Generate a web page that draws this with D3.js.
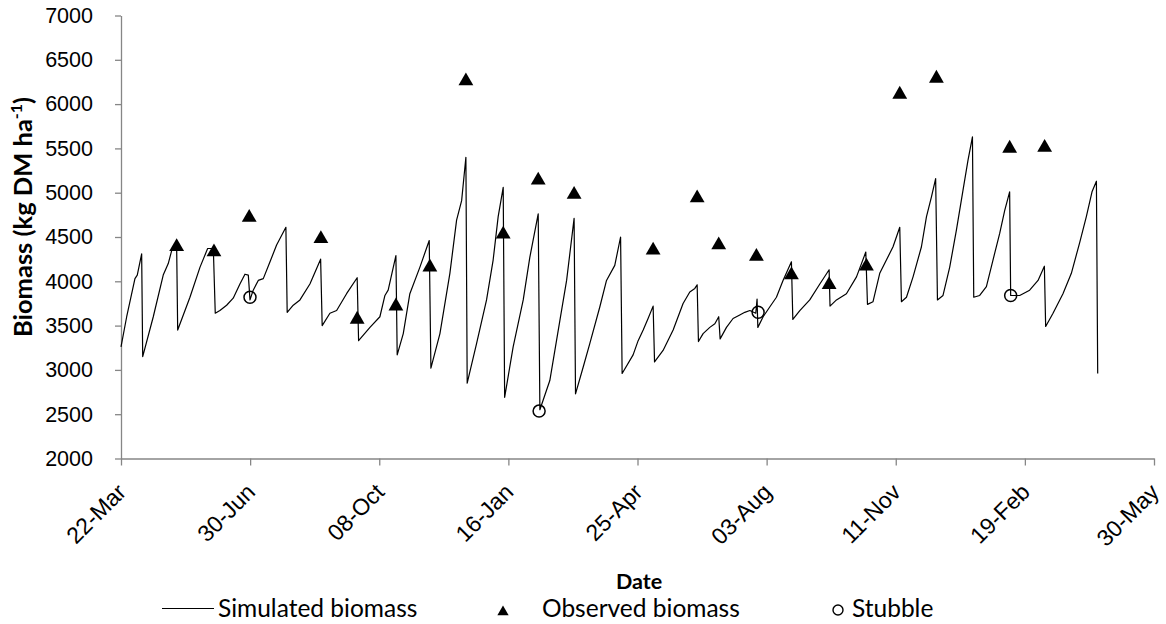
<!DOCTYPE html>
<html>
<head>
<meta charset="utf-8">
<script src="https://cdn.jsdelivr.net/npm/d3@7"></script>
<style>
  body { margin: 0; background: #fff; }
  svg { font-family: Lato, "Open Sans", sans-serif; }
</style>
</head>
<body>
<svg id="chart" width="1166" height="624"></svg>
<script>
// days counted from 22-Mar, ticks every 100 days
var xTickDays = [0, 100, 200, 300, 400, 500, 600, 700, 800];
var xTickLabels = ['22-Mar', '30-Jun', '08-Oct', '16-Jan', '25-Apr', '03-Aug', '11-Nov', '19-Feb', '30-May'];
var yTicks = [2000, 2500, 3000, 3500, 4000, 4500, 5000, 5500, 6000, 6500, 7000];

var simDay = [0, 4.4, 10.8, 12.6, 16.0, 16.8, 25.0, 32.7, 36.6, 39.3, 43.1, 43.9, 53.4, 61.2, 67.1, 71.5, 73.0, 76.6, 81.8, 86.9,
  92.1, 96.0, 98.6, 99.9, 102.4, 106.3, 110.2, 115.4, 120.5, 127.7, 128.7, 133.4, 138.6, 146.3, 154.6, 155.8, 161.8, 167.0, 174.7, 182.9,
  184.0, 192.8, 200.5, 204.4, 206.9, 212.9, 213.9, 218.6, 223.7, 231.5, 238.7, 240.0, 247.0, 254.7, 259.9, 263.8, 267.1, 268.1, 275.4, 283.1,
  288.2, 292.1, 296.0, 297.1, 303.7, 311.5, 316.6, 323.1, 324.4, 332.1, 339.9, 345.1, 350.9, 352.0, 357.9, 363.1, 370.8, 376.0, 382.4, 386.9,
  388.1, 396.6, 400.5, 404.4, 408.2, 412.1, 413.2, 419.8, 427.6, 435.3, 440.5, 444.4, 446.2, 447.2, 450.8, 456.0, 459.9, 462.9, 464.0, 468.9,
  474.0, 479.2, 483.1, 487.0, 491.6, 492.6, 493.2, 497.3, 502.4, 507.6, 512.7, 519.2, 520.3, 525.7, 533.4, 541.2, 548.4, 549.1, 554.1, 561.8,
  569.6, 576.8, 578.1, 582.4, 587.6, 597.9, 603.1, 604.4, 608.3, 613.4, 619.9, 623.8, 627.6, 630.9, 632.3, 636.6, 641.8, 647.0, 652.1, 656.0,
  659.4, 660.4, 665.0, 670.2, 675.3, 680.5, 684.4, 688.2, 689.0, 696.0, 703.7, 710.2, 715.1, 716.1, 721.8, 729.5, 736.0, 742.5, 747.6, 752.0,
  755.4, 756.4];
var simBiomass = [3260, 3600, 4030, 4070, 4310, 3150, 3600, 4070, 4200, 4350, 4390, 3450, 3820, 4160, 4370, 4370, 3640, 3670, 3730, 3810,
  3970, 4080, 4070, 3790, 3900, 4010, 4030, 4220, 4410, 4610, 3650, 3730, 3790, 3970, 4250, 3500, 3640, 3670, 3860, 4040,
  3330, 3480, 3600, 3840, 3900, 4290, 3170, 3410, 3860, 4160, 4460, 3020, 3410, 4090, 4690, 4910, 5400, 2850, 3300, 3790,
  4240, 4730, 5060, 2690, 3260, 3790, 4270, 4760, 2550, 2880, 3560, 4010, 4710, 2730, 3030, 3300, 3710, 4010, 4180, 4500,
  2960, 3170, 3330, 3450, 3580, 3720, 3090, 3220, 3450, 3750, 3880, 3920, 3960, 3320, 3410, 3480, 3520, 3600, 3350, 3480,
  3580, 3620, 3650, 3670, 3640, 3800, 3480, 3600, 3710, 3820, 4010, 4220, 3570, 3670, 3790, 3970, 4130, 3720, 3790, 3860,
  4050, 4330, 3740, 3770, 4090, 4390, 4610, 3770, 3820, 4050, 4390, 4730, 4950, 5160, 3790, 3840, 4160, 4580, 5030, 5370,
  5630, 3820, 3840, 3940, 4240, 4540, 4800, 5010, 3840, 3840, 3900, 4010, 4170, 3490, 3640, 3860, 4090, 4440, 4730, 5010,
  5130, 2960];

var obsDay = [43.1, 72.0, 99.3, 154.8, 182.9, 212.9, 239.2, 267.1, 296.0, 323.1, 350.9, 412.1, 446.2, 462.9, 492.1, 519.2, 548.4, 577.3, 603.1, 631.5, 688.2, 715.3];
var obsBiomass = [4390, 4330, 4720, 4480, 3570, 3720, 4160, 6260, 4530, 5140, 4980, 4350, 4940, 4410, 4280, 4070, 3960, 4170, 6110, 6290, 5500, 5510];

var stubbleDay = [99.9, 323.8, 493.4, 689.0];
var stubbleBiomass = [3820, 2535, 3650, 3840];

var svg = d3.select('#chart');
var axisColor = '#868686';

var x = d3.scaleLinear().domain([0, 800]).range([121, 1154]);
var y = d3.scaleLinear().domain([2000, 7000]).range([458.5, 15.5]);

// axes
var gx = svg.append('g')
  .attr('transform', 'translate(0,' + y(2000) + ')')
  .call(d3.axisBottom(x).tickValues(xTickDays).tickSize(7).tickSizeOuter(0)
    .tickFormat(function(d, i) { return xTickLabels[i]; }));
gx.selectAll('text')
  .attr('text-anchor', 'end')
  .attr('font-size', 23)
  .attr('fill', '#000')
  .attr('dy', 0)
  .attr('y', 0)
  .attr('transform', 'translate(6,35) rotate(-45)');

var gy = svg.append('g')
  .attr('transform', 'translate(' + x(0) + ',0)')
  .call(d3.axisLeft(y).tickValues(yTicks).tickSize(6).tickSizeOuter(0).tickPadding(22)
    .tickFormat(d3.format('d')));
gy.selectAll('text')
  .attr('font-size', 21.5)
  .attr('fill', '#000');

svg.selectAll('.domain, .tick line')
  .attr('stroke', axisColor)
  .attr('stroke-width', 1.3);

// simulated line
var line = d3.line()
  .x(function(d, i) { return x(simDay[i]); })
  .y(function(d) { return y(d); });

svg.append('path')
  .datum(simBiomass)
  .attr('d', line)
  .attr('fill', 'none')
  .attr('stroke', '#000')
  .attr('stroke-width', 1.2)
  .attr('stroke-linejoin', 'round');

// observed
var tri = d3.symbol().type(d3.symbolTriangle).size(95);
svg.selectAll('.obs')
  .data(obsBiomass)
  .enter().append('path')
  .attr('class', 'obs')
  .attr('d', tri)
  .attr('transform', function(d, i) { return 'translate(' + x(obsDay[i]) + ',' + y(d) + ')'; })
  .attr('fill', '#000');

// stubble
svg.selectAll('.stub')
  .data(stubbleBiomass)
  .enter().append('circle')
  .attr('class', 'stub')
  .attr('cx', function(d, i) { return x(stubbleDay[i]); })
  .attr('cy', function(d) { return y(d); })
  .attr('r', 6)
  .attr('fill', 'none')
  .attr('stroke', '#000')
  .attr('stroke-width', 1.5);

// titles
svg.append('text')
  .attr('x', 639)
  .attr('y', 589)
  .attr('text-anchor', 'middle')
  .attr('font-size', 21.5)
  .attr('font-weight', 'bold')
  .text('Date');

var yt = svg.append('text')
  .attr('transform', 'translate(31.5,217) rotate(-90)')
  .attr('text-anchor', 'middle')
  .attr('font-size', 25.5)
  .attr('font-weight', 'bold');
yt.append('tspan').text('Biomass (kg DM ha');
yt.append('tspan').attr('font-size', 16).attr('dy', -10).text('-1');
yt.append('tspan').attr('dy', 10).text(')');

// legend
var leg = svg.append('g').attr('font-size', 24.5);
leg.append('line')
  .attr('x1', 162).attr('x2', 214).attr('y1', 608.5).attr('y2', 608.5)
  .attr('stroke', '#000').attr('stroke-width', 1.2);
leg.append('text').attr('x', 218).attr('y', 617).text('Simulated biomass');
leg.append('path')
  .attr('d', d3.symbol().type(d3.symbolTriangle).size(55))
  .attr('transform', 'translate(503,612)');
leg.append('text').attr('x', 542).attr('y', 617).text('Observed biomass');
leg.append('circle')
  .attr('cx', 838).attr('cy', 610).attr('r', 5)
  .attr('fill', 'none').attr('stroke', '#000').attr('stroke-width', 1.4);
leg.append('text').attr('x', 852).attr('y', 617).text('Stubble');
</script>
</body>
</html>
